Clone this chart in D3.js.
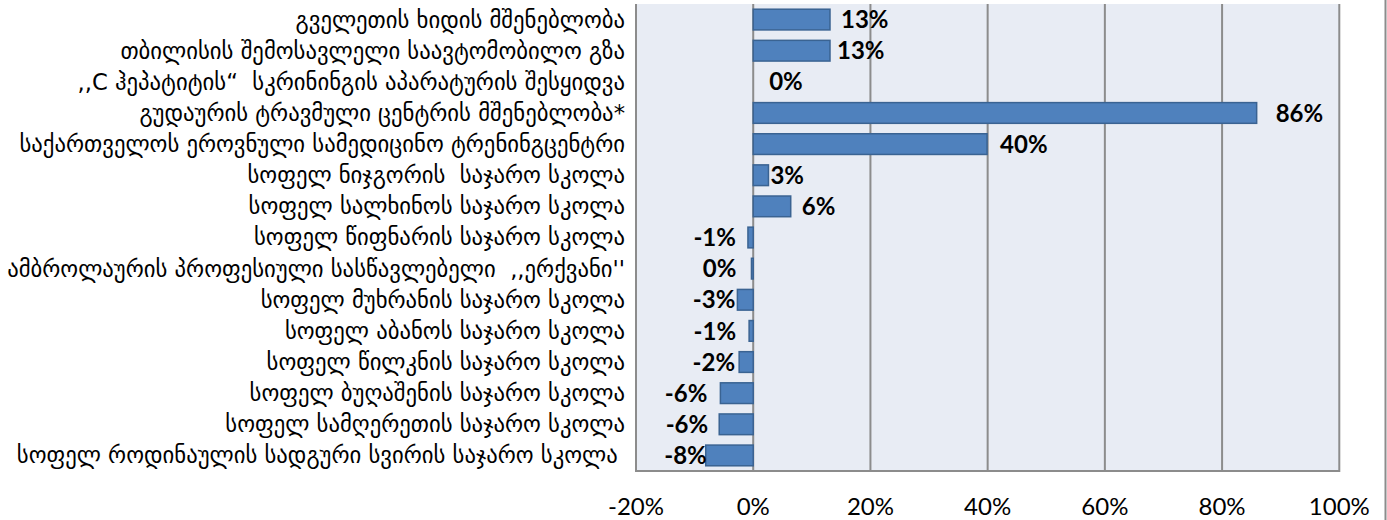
<!DOCTYPE html>
<html>
<head>
<meta charset="utf-8">
<script src="https://cdn.jsdelivr.net/npm/d3@7/dist/d3.min.js"></script>
<style>
  html, body { margin: 0; padding: 0; background: #fff; }
  svg { display: block; }
  .cat { font-family: "DejaVu Sans", sans-serif; fill: #000; white-space: pre; }
  .tick-label { font-family: Lato, "Open Sans", sans-serif; fill: #000; }
  .val { font-family: Lato, "Open Sans", sans-serif; font-weight: 700; fill: #000; }
</style>
</head>
<body>
<svg id="chart" width="1387" height="520"></svg>
<script>
// Projects (top to bottom)
const projects = [
  "გველეთის ხიდის მშენებლობა",
  "თბილისის შემოსავლელი საავტომობილო გზა",
  ",,C ჰეპატიტის“  სკრინინგის აპარატურის შესყიდვა",
  "გუდაურის ტრავმული ცენტრის მშენებლობა*",
  "საქართველოს ეროვნული სამედიცინო ტრენინგცენტრი",
  "სოფელ ნიჯგორის  საჯარო სკოლა",
  "სოფელ სალხინოს საჯარო სკოლა",
  "სოფელ წიფნარის საჯარო სკოლა",
  "ამბროლაურის პროფესიული სასწავლებელი  ,,ერქვანი''",
  "სოფელ მუხრანის საჯარო სკოლა",
  "სოფელ აბანოს საჯარო სკოლა",
  "სოფელ წილკნის საჯარო სკოლა",
  "სოფელ ბუღაშენის საჯარო სკოლა",
  "სოფელ სამღერეთის საჯარო სკოლა",
  "სოფელ როდინაულის სადგური სვირის საჯარო სკოლა "
];

// Share of each project (fraction)
const shares = [0.131, 0.131, 0, 0.859, 0.399, 0.026, 0.064, -0.009, -0.003, -0.027, -0.007, -0.024, -0.056, -0.058, -0.081];

// Axis ticks
const tickValues = [-0.2, 0, 0.2, 0.4, 0.6, 0.8, 1.0];
const tickLabels = ["-20%", "0%", "20%", "40%", "60%", "80%", "100%"];

// Gap between a bar's outer end and its value label (px)
const labelGap = [11, 7, 16, 19, 13, 2, 11, 12, 15, 2, 13, 4, 13, 11, -1];

const svg = d3.select("#chart");
const plot = { left: 636, right: 1339.3, top: 4, bottom: 471 };

const x = d3.scaleLinear().domain([-0.2, 1.0]).range([plot.left, plot.right]);
const y = d3.scaleBand().domain(projects).range([plot.top, plot.bottom])
  .paddingInner(0.335).paddingOuter(0.1675);

// plot background
svg.append("rect")
  .attr("x", plot.left).attr("y", plot.top)
  .attr("width", plot.right - plot.left).attr("height", plot.bottom - plot.top)
  .attr("fill", "#E8ECF4");

// vertical gridlines
svg.append("g").selectAll("line").data(tickValues.slice(1, -1)).join("line")
  .attr("x1", d => x(d)).attr("x2", d => x(d))
  .attr("y1", plot.top).attr("y2", plot.bottom)
  .attr("stroke", "#8C8C8C").attr("stroke-width", 2);

// plot border (left, right, bottom)
svg.append("path")
  .attr("d", `M${plot.left},${plot.top}V${plot.bottom}H${plot.right}V${plot.top}`)
  .attr("fill", "none").attr("stroke", "#8C8C8C").attr("stroke-width", 2);

// outer frame edge on the right
svg.append("line")
  .attr("x1", 1385.5).attr("x2", 1385.5).attr("y1", 0).attr("y2", 520)
  .attr("stroke", "#8C8C8C").attr("stroke-width", 2);

// bars
const rows = projects.map((p, i) => ({ p, v: shares[i], gap: labelGap[i] }));
svg.append("g").selectAll("rect").data(rows).join("rect")
  .attr("x", d => x(Math.min(0, d.v)))
  .attr("y", d => y(d.p))
  .attr("width", d => Math.abs(x(d.v) - x(0)))
  .attr("height", y.bandwidth())
  .attr("fill", "#4F81BD")
  .attr("stroke", "#3A6392").attr("stroke-width", d => d.v === 0 ? 0 : 1.5);

// value labels
const fmt = v => `${Math.round(v * 100) || 0}%`;
svg.append("g").selectAll("text").data(rows).join("text")
  .attr("class", "val")
  .attr("font-size", 24)
  .attr("x", d => d.v >= 0 ? x(d.v) + d.gap : x(d.v) - d.gap)
  .attr("y", d => y(d.p) + y.bandwidth() / 2)
  .attr("dy", "0.36em")
  .attr("text-anchor", d => d.v >= 0 ? "start" : "end")
  .text(d => fmt(d.v));

// category labels
const catG = svg.append("g");
const cats = catG.selectAll("text").data(projects).join("text")
  .attr("class", "cat")
  .attr("font-size", 18)
  .attr("x", 625)
  .attr("y", d => y(d) + y.bandwidth() / 2)
  .attr("dy", "0.35em")
  .attr("text-anchor", "end")
  .text(d => d);
// fit the longest label into the space left of the plot
const widest = d3.max(cats.nodes(), n => n.getComputedTextLength());
const fs = 18 * 618 / widest;
cats.attr("font-size", fs);

// x axis tick labels
svg.append("g").selectAll("text").data(tickValues).join("text")
  .attr("class", "tick-label")
  .attr("font-size", 24)
  .attr("x", d => x(d))
  .attr("y", 506)
  .attr("dy", "0.36em")
  .attr("text-anchor", "middle")
  .text((d, i) => tickLabels[i]);
</script>
</body>
</html>
